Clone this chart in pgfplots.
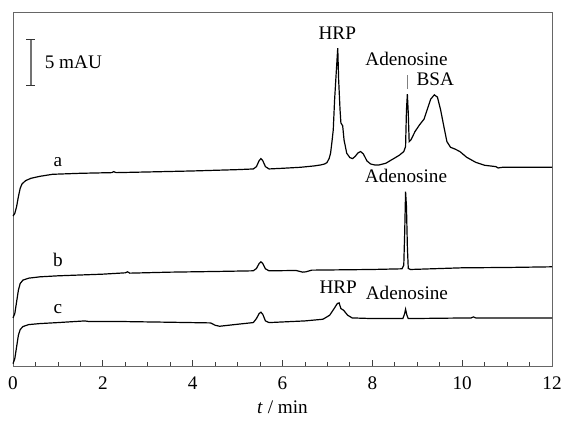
\documentclass[border=0pt]{standalone}
\usepackage{pgfplots}
\pgfplotsset{compat=1.18}
\usepackage{fontspec}
\setmainfont{Liberation Serif}

\begin{document}
\begin{tikzpicture}[font=\fontsize{9.6}{11.5}\selectfont]
    % bounding box: 562x422 px at 0.5pt/px, axis box at px (13..552, 12..366)
    \path[use as bounding box] (-6.5pt,-28pt) rectangle (274.5pt,183pt);
    \begin{axis}[
        at={(0,0)}, anchor=south west,
        scale only axis,
        width=269.5pt, height=177pt,
        xmin=0, xmax=12,
        ymin=0, ymax=1060,
        xtick={0,2,...,12},
        minor x tick num=3,
        ytick=\empty,
        tick align=inside,
        xtick pos=bottom,
        major tick length=2.8pt,
        minor tick length=2pt,
        axis line style={black!60},
        every tick/.style={black!75},
        xticklabel shift=2pt,
        /pgf/number format/assume math mode=true,
        xlabel={\textit{t} / min},
        x label style={at={(axis description cs:0.5,0)}, anchor=base, yshift=-24pt},
        clip=false,
    ]
        % trace a
        \addplot[black, line width=0.6pt] coordinates {
            (0,449) (0.04,457) (0.08,477) (0.12,507) (0.16,532) (0.2,545)
            (0.28,555) (0.4,562) (0.6,568) (0.88,574) (1.5,577) (2.2,579)
            (2.24,582) (2.3,579) (3.0,581) (4.0,584) (5.0,588) (5.35,590)
            (5.42,597) (5.48,615) (5.52,621) (5.56,615) (5.62,597) (5.7,590)
            (6.0,592) (6.4,595) (6.7,599) (6.85,602) (6.94,605) (6.99,609)
            (7.04,622) (7.07,637) (7.1,670) (7.13,707) (7.16,797) (7.2,887)
            (7.23,952) (7.25,857) (7.28,770) (7.3,728) (7.34,719) (7.37,677)
            (7.43,637) (7.5,624) (7.56,621) (7.62,628)
            (7.68,638) (7.74,642) (7.8,635) (7.88,614) (7.96,605) (8.05,602)
            (8.15,602) (8.3,607) (8.45,619) (8.6,631) (8.7,642) (8.74,657)
            (8.76,767) (8.78,814) (8.8,757) (8.82,672) (8.86,677) (8.95,702)
            (9.05,722) (9.15,739) (9.22,767) (9.3,799) (9.38,812) (9.45,805)
            (9.52,767) (9.6,712) (9.66,672) (9.74,655) (9.85,649) (9.95,642)
            (10.1,625) (10.3,610) (10.5,601) (10.75,597) (10.8,593) (10.9,595)
            (11.5,595) (12,595)
        };
        % trace b
        \addplot[black, line width=0.6pt] coordinates {
            (0,144) (0.04,157) (0.08,192) (0.12,227) (0.16,247) (0.22,257)
            (0.35,263) (0.6,267) (1.0,270) (2.0,275) (2.5,279) (2.55,282)
            (2.6,278) (3.5,281) (4.5,283) (5.35,285) (5.42,292) (5.48,307)
            (5.52,312) (5.56,307) (5.62,291) (5.7,285) (6.3,286) (6.45,281)
            (6.52,282) (6.65,287) (8.0,289) (8.66,291) (8.7,302) (8.72,397)
            (8.74,522) (8.76,477) (8.78,357) (8.8,292) (8.85,289) (10.0,294)
            (11.0,295) (12,297)
        };
        % trace c
        \addplot[black, line width=0.6pt] coordinates {
            (0,7) (0.04,22) (0.08,57) (0.12,92) (0.16,109) (0.22,118)
            (0.35,124) (0.6,127) (1.0,130) (1.6,135) (1.7,133) (2.5,133)
            (3.5,131) (4.4,129) (4.5,122) (4.6,119) (5.0,125) (5.35,130)
            (5.42,142) (5.48,157) (5.52,161) (5.56,155) (5.62,135) (5.7,130)
            (6.5,135) (6.9,140) (7.05,152) (7.15,172) (7.22,187) (7.26,189)
            (7.3,172) (7.36,167) (7.45,152) (7.55,144) (8.0,142) (8.68,142)
            (8.72,157) (8.74,170) (8.77,152) (8.8,142) (10.2,144) (10.25,147)
            (10.3,144) (12,144)
        };

        % scale bar
        \draw[black!55, line width=0.6pt] (axis cs:0.4,839) -- (axis cs:0.4,977);
        \draw[black!80, line width=0.6pt] (axis cs:0.3,977) -- (axis cs:0.5,977);
        \draw[black!80, line width=0.6pt] (axis cs:0.3,839) -- (axis cs:0.5,839);
        \node[anchor=base west, inner sep=0pt] at (axis cs:0.70,892) {5 mAU};

        % trace labels
        \node[anchor=base, inner sep=0pt] at (axis cs:1.0,597) {a};
        \node[anchor=base, inner sep=0pt] at (axis cs:1.0,297) {b};
        \node[anchor=base, inner sep=0pt] at (axis cs:1.0,157) {c};

        % peak labels
        \node[anchor=base, inner sep=0pt] at (axis cs:7.22,977) {HRP};
        \node[anchor=base, inner sep=0pt] at (axis cs:8.76,900) {Adenosine};
        \draw[black!50, line width=0.5pt] (axis cs:8.78,829) -- (axis cs:8.78,872);
        \node[anchor=base, inner sep=0pt] at (axis cs:9.4,839) {BSA};
        \node[anchor=base, inner sep=0pt] at (axis cs:8.75,549) {Adenosine};
        \node[anchor=base, inner sep=0pt] at (axis cs:7.24,217) {HRP};
        \node[anchor=base, inner sep=0pt] at (axis cs:8.77,199) {Adenosine};
    \end{axis}
\end{tikzpicture}
\end{document}
